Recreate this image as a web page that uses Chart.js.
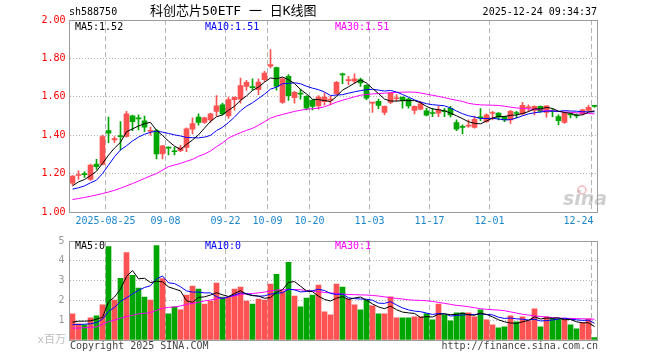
<!DOCTYPE html>
<html><head><meta charset="utf-8">
<script src="https://cdn.jsdelivr.net/npm/chart.js@4/dist/chart.umd.min.js"></script>
<style>
html,body{margin:0;padding:0;background:#fff;}
#wrap{position:relative;width:660px;height:360px;background:#fff;}
canvas{position:absolute;left:0;}
#c1{top:0;} #c2{top:230px;}
</style></head><body>
<div id="wrap"><canvas id="c1" width="660" height="230"></canvas><canvas id="c2" width="660" height="130"></canvas></div>
<script>
// ---------- data ----------
const dates = [
'2025-08-15','2025-08-18','2025-08-19','2025-08-20','2025-08-21','2025-08-22','2025-08-25','2025-08-26','2025-08-27','2025-08-28','2025-08-29',
'2025-09-01','2025-09-02','2025-09-03','2025-09-04','2025-09-05','2025-09-08','2025-09-09','2025-09-10','2025-09-11','2025-09-12',
'2025-09-15','2025-09-16','2025-09-17','2025-09-18','2025-09-19','2025-09-22','2025-09-23','2025-09-24','2025-09-25','2025-09-26','2025-09-29','2025-09-30',
'2025-10-09','2025-10-10','2025-10-13','2025-10-14','2025-10-15','2025-10-16','2025-10-17','2025-10-20','2025-10-21','2025-10-22','2025-10-23','2025-10-24',
'2025-10-27','2025-10-28','2025-10-29','2025-10-30','2025-10-31',
'2025-11-03','2025-11-04','2025-11-05','2025-11-06','2025-11-07','2025-11-10','2025-11-11','2025-11-12','2025-11-13','2025-11-14',
'2025-11-17','2025-11-18','2025-11-19','2025-11-20','2025-11-21','2025-11-24','2025-11-25','2025-11-26','2025-11-27','2025-11-28',
'2025-12-01','2025-12-02','2025-12-03','2025-12-04','2025-12-05','2025-12-08','2025-12-09','2025-12-10','2025-12-11','2025-12-12',
'2025-12-15','2025-12-16','2025-12-17','2025-12-18','2025-12-19','2025-12-22','2025-12-23','2025-12-24'];

const opens = [1.15,1.19,1.198,1.17,1.25,1.248,1.424,1.375,1.398,1.393,
1.501,1.49,1.475,1.42,1.424,1.302,1.337,1.318,1.319,1.337,
1.431,1.494,1.466,1.48,1.524,1.558,1.501,1.585,1.588,1.654,
1.652,1.637,1.689,1.76,1.752,1.571,1.707,1.595,1.618,1.602,
1.581,1.553,1.574,1.583,1.616,1.718,1.684,1.682,1.69,1.66,
1.567,1.576,1.518,1.571,1.59,1.599,1.588,1.529,1.536,1.527,
1.517,1.515,1.525,1.54,1.466,1.443,1.447,1.441,1.496,1.471,
1.513,1.515,1.497,1.48,1.516,1.511,1.542,1.529,1.55,1.518,
1.527,1.497,1.466,1.51,1.503,1.511,1.529,1.552];
const highs = [1.19,1.215,1.21,1.25,1.274,1.401,1.494,1.393,1.471,1.524,
1.505,1.506,1.50,1.442,1.43,1.347,1.34,1.337,1.347,1.438,
1.49,1.511,1.494,1.515,1.606,1.567,1.599,1.60,1.698,1.686,
1.693,1.693,1.733,1.846,1.755,1.699,1.716,1.628,1.64,1.606,
1.585,1.606,1.62,1.602,1.68,1.724,1.707,1.72,1.698,1.663,
1.571,1.588,1.553,1.623,1.611,1.599,1.593,1.553,1.576,1.54,
1.54,1.55,1.54,1.55,1.48,1.454,1.48,1.50,1.539,1.511,
1.524,1.518,1.50,1.529,1.524,1.571,1.558,1.553,1.553,1.553,
1.54,1.506,1.518,1.515,1.511,1.536,1.557,1.555];
const lows = [1.14,1.17,1.18,1.165,1.222,1.245,1.361,1.361,1.323,1.39,
1.424,1.428,1.419,1.40,1.276,1.276,1.297,1.297,1.314,1.314,
1.407,1.452,1.462,1.466,1.50,1.505,1.487,1.53,1.567,1.634,
1.634,1.611,1.68,1.75,1.634,1.565,1.581,1.567,1.588,1.532,
1.532,1.536,1.557,1.558,1.611,1.668,1.663,1.668,1.654,1.585,
1.518,1.538,1.506,1.564,1.576,1.541,1.541,1.511,1.532,1.50,
1.497,1.497,1.497,1.494,1.424,1.407,1.44,1.436,1.476,1.466,
1.48,1.48,1.471,1.462,1.49,1.506,1.524,1.506,1.518,1.494,
1.497,1.454,1.462,1.49,1.49,1.506,1.524,1.545];
const closes = [1.187,1.195,1.195,1.245,1.236,1.393,1.41,1.382,1.392,1.511,
1.471,1.485,1.442,1.424,1.302,1.344,1.333,1.314,1.336,1.433,
1.461,1.466,1.49,1.511,1.553,1.511,1.585,1.597,1.658,1.675,
1.648,1.677,1.724,1.768,1.654,1.693,1.606,1.623,1.614,1.541,
1.55,1.599,1.599,1.586,1.675,1.714,1.688,1.693,1.672,1.593,
1.571,1.555,1.55,1.62,1.595,1.581,1.553,1.55,1.564,1.504,
1.513,1.532,1.522,1.506,1.431,1.441,1.45,1.483,1.49,1.506,
1.515,1.494,1.48,1.524,1.513,1.555,1.545,1.55,1.524,1.553,
1.522,1.476,1.515,1.506,1.50,1.532,1.545,1.55];

const ma5 = [1.136,1.157,1.169,1.19,1.212,1.253,1.296,1.333,1.363,1.418,
1.433,1.448,1.460,1.467,1.425,1.399,1.369,1.343,1.326,1.352,
1.375,1.402,1.437,1.472,1.496,1.506,1.530,1.551,1.581,1.605,
1.633,1.651,1.676,1.698,1.694,1.703,1.689,1.669,1.638,1.615,
1.587,1.585,1.581,1.575,1.602,1.635,1.652,1.671,1.688,1.672,
1.643,1.617,1.588,1.578,1.578,1.580,1.580,1.580,1.569,1.550,
1.537,1.533,1.527,1.515,1.501,1.486,1.470,1.462,1.459,1.474,
1.489,1.498,1.497,1.504,1.505,1.513,1.523,1.537,1.537,1.545,
1.539,1.525,1.518,1.514,1.504,1.506,1.520,1.527];
const ma10 = [1.119,1.126,1.136,1.152,1.166,1.200,1.244,1.288,1.323,1.345,
1.370,1.390,1.405,1.415,1.421,1.416,1.409,1.402,1.396,1.388,
1.387,1.386,1.390,1.399,1.424,1.441,1.466,1.494,1.527,1.551,
1.569,1.591,1.614,1.640,1.650,1.668,1.670,1.673,1.668,1.655,
1.645,1.637,1.625,1.607,1.609,1.611,1.619,1.626,1.632,1.637,
1.639,1.635,1.630,1.633,1.625,1.612,1.598,1.584,1.573,1.564,
1.559,1.556,1.553,1.542,1.526,1.512,1.501,1.495,1.487,1.487,
1.488,1.484,1.480,1.481,1.490,1.501,1.511,1.517,1.521,1.525,
1.526,1.524,1.528,1.526,1.525,1.522,1.522,1.522];
const ma30 = [1.065,1.070,1.076,1.082,1.089,1.096,1.104,1.113,1.124,1.136,
1.148,1.161,1.175,1.188,1.200,1.218,1.236,1.245,1.253,1.264,
1.274,1.290,1.302,1.318,1.340,1.360,1.385,1.400,1.413,1.425,
1.436,1.452,1.470,1.489,1.500,1.508,1.516,1.524,1.530,1.535,
1.538,1.541,1.548,1.560,1.572,1.582,1.591,1.600,1.608,1.612,
1.615,1.617,1.619,1.621,1.623,1.624,1.625,1.624,1.620,1.614,
1.608,1.602,1.596,1.588,1.582,1.576,1.566,1.561,1.558,1.557,
1.556,1.555,1.551,1.546,1.542,1.540,1.537,1.535,1.532,1.529,
1.527,1.524,1.521,1.519,1.517,1.515,1.513,1.511];

const volumes = [1.32,0.82,0.77,1.12,1.22,1.77,4.72,2.02,3.12,4.42,
3.27,2.62,2.17,2.02,4.77,3.10,1.32,1.67,1.52,2.27,
2.72,2.57,1.82,1.97,2.87,2.17,2.17,2.57,2.67,1.97,
1.82,2.07,2.02,2.82,3.32,2.47,3.92,2.22,1.67,2.12,
2.27,2.77,1.42,1.27,2.82,2.67,2.07,1.77,1.52,2.02,
1.72,1.32,1.32,2.18,1.12,1.12,1.12,1.17,1.17,1.33,
1.02,1.82,1.27,0.97,1.37,1.37,1.37,1.17,1.52,1.02,
0.77,0.62,0.67,1.22,0.92,1.17,0.97,1.57,0.67,1.17,
1.12,1.07,1.07,0.77,0.57,0.87,1.07,0.12];
const volMa5 = [0.90,0.95,0.95,0.97,1.05,1.14,1.92,2.17,2.57,3.21,
3.51,3.09,3.12,2.90,2.97,2.94,2.68,2.58,2.48,1.98,
1.90,2.15,2.18,2.27,2.39,2.28,2.20,2.35,2.49,2.31,
2.24,2.22,2.11,2.14,2.41,2.54,2.91,2.95,2.72,2.48,
2.44,2.21,2.05,1.97,2.11,2.19,2.05,2.12,2.17,2.01,
1.82,1.67,1.58,1.71,1.53,1.41,1.37,1.34,1.14,1.18,
1.16,1.30,1.32,1.28,1.29,1.36,1.27,1.25,1.36,1.29,
1.17,1.02,0.92,0.86,0.84,0.92,0.99,1.17,1.06,1.11,
1.10,1.12,1.02,1.04,0.92,0.87,0.87,0.68];
const volMa10 = [0.77,0.78,0.80,0.82,0.88,1.05,1.45,1.65,1.95,2.13,
2.33,2.51,2.65,2.74,3.09,3.23,2.89,2.85,2.69,2.48,
2.42,2.42,2.38,2.38,2.19,2.09,2.18,2.27,2.38,2.35,
2.26,2.21,2.23,2.32,2.36,2.39,2.57,2.53,2.43,2.45,
2.49,2.56,2.50,2.35,2.30,2.32,2.13,2.09,2.07,2.06,
2.01,1.86,1.85,1.94,1.77,1.62,1.52,1.46,1.43,1.36,
1.29,1.34,1.33,1.21,1.24,1.26,1.29,1.29,1.32,1.29,
1.27,1.15,1.09,1.11,1.07,1.05,1.01,1.05,0.96,0.98,
1.01,1.06,1.10,1.05,1.02,0.99,1.00,0.85];
const volMa30 = [0.60,0.60,0.62,0.64,0.66,0.80,0.93,1.00,1.10,1.18,
1.25,1.32,1.35,1.38,1.50,1.60,1.65,1.67,1.72,1.80,
1.85,1.90,1.97,2.02,2.08,2.12,2.18,2.22,2.30,2.33,
2.35,2.38,2.42,2.48,2.52,2.53,2.55,2.55,2.54,2.50,
2.47,2.44,2.40,2.38,2.35,2.32,2.30,2.29,2.28,2.27,
2.25,2.22,2.18,2.14,2.10,2.07,2.03,2.01,2.00,1.98,
1.95,1.90,1.85,1.80,1.75,1.72,1.68,1.63,1.58,1.55,
1.53,1.51,1.48,1.42,1.36,1.30,1.26,1.22,1.19,1.16,
1.13,1.11,1.10,1.09,1.08,1.07,1.06,1.05];

const tickDates  = ['2025-08-25','2025-09-08','2025-09-22','2025-10-09','2025-10-20','2025-11-03','2025-11-17','2025-12-01','2025-12-24'];
const tickLabels = ['2025-08-25','09-08','09-22','10-09','10-20','11-03','11-17','12-01','12-24'];
const priceTicks = {min:1.0, max:2.0, step:0.2};
const volTicks = {min:0, max:5, step:1};

// ---------- styling ----------
const FONT = "'DejaVu Sans Mono','Liberation Mono',monospace";
const UP = '#ff5353', DOWN = '#00a600', GRID = '#b4b4b4', FRAME = '#9c9c9c';
Chart.defaults.font.family = FONT;
Chart.defaults.font.size = 10;
Chart.defaults.animation = false;
Chart.defaults.plugins.legend.display = false;
Chart.defaults.plugins.tooltip.enabled = false;

const n = dates.length;
const markIdx = tickDates.map(d => dates.indexOf(d));
const upAt = i => closes[i] >= opens[i];
const colorAt = c => upAt(c.dataIndex) ? UP : DOWN;

function xOpts(){
  return {
    type:'category', offset:true,
    grid:{offset:true, drawTicks:false, lineWidth:1,
      color: c => markIdx.includes(c.index) ? GRID : 'rgba(0,0,0,0)'},
    border:{display:false, dash:[5,3]},
    ticks:{display:false, autoSkip:false},
    afterFit: s => { s.height = 0; }
  };
}
function lineDs(data, color){
  return {type:'line', data, borderColor:color, borderWidth:1, pointRadius:0, tension:0, order:0};
}
function frame(ctx, a){
  ctx.save();
  ctx.strokeStyle = FRAME; ctx.lineWidth = 1;
  const t = Math.floor(a.top)+0.5, b = Math.floor(a.bottom)+0.5;
  ctx.strokeRect(a.left, t, a.right - a.left, b - t);
  ctx.restore();
}

// ---------- price chart ----------
const deco1 = {
  id:'deco1',
  afterDraw(chart){
    const {ctx, chartArea:a, scales:{x}} = chart;
    frame(ctx, a);
    ctx.save();
    ctx.textBaseline = 'middle';
    ctx.font = '10px ' + FONT;
    ctx.fillStyle = '#000';
    ctx.textAlign = 'left';
    ctx.fillText('sh588750', 69, 12);
    ctx.textAlign = 'right';
    ctx.fillText('2025-12-24 09:34:37', 597, 12);
    ctx.textAlign = 'left';
    ctx.font = "13px 'DejaVu Sans Mono','Noto Sans CJK SC'";
    ctx.fillText('科创芯片50ETF 一 日K线图', 150, 12);
    ctx.font = '10px ' + FONT;
    ctx.fillStyle = '#000'; ctx.fillText('MA5:1.52', 75, 27);
    ctx.fillStyle = '#0000ff'; ctx.fillText('MA10:1.51', 205, 27);
    ctx.fillStyle = '#ff00ff'; ctx.fillText('MA30:1.51', 335, 27);
    // x labels
    const slot = (a.right - a.left) / n;
    ctx.fillStyle = '#1a86cc';
    ctx.textAlign = 'center';
    markIdx.forEach((idx, k) => {
      const px = x.getPixelForValue(idx) - slot/2;
      const w = ctx.measureText(tickLabels[k]).width;
      const cx = Math.min(px, a.right - w/2 - 4);
      ctx.fillText(tickLabels[k], cx, 221);
    });
    // sina watermark
    ctx.globalAlpha = 0.55;
    ctx.fillStyle = '#a8a8a8';
    ctx.font = "italic bold 19px 'DejaVu Sans','Liberation Sans'";
    ctx.textAlign = 'left';
    ctx.fillText('sina', 563, 200);
    ctx.strokeStyle = '#f08080'; ctx.lineWidth = 1.5;
    ctx.beginPath(); ctx.arc(582, 190, 4, 0, Math.PI*2); ctx.stroke();
    ctx.restore();
  }
};

new Chart(document.getElementById('c1'), {
  type:'bar',
  data:{
    labels: dates,
    datasets:[
      lineDs(ma5, '#000000'),
      lineDs(ma10, '#0000ff'),
      lineDs(ma30, '#ff00ff'),
      {type:'bar', data: opens.map((o,i)=>[o, closes[i]]), backgroundColor: colorAt,
       barThickness:5, minBarLength:1, grouped:false, borderWidth:0, order:1},
      {type:'bar', data: lows.map((l,i)=>[l, highs[i]]), backgroundColor: colorAt,
       barThickness:1, grouped:false, borderWidth:0, order:2}
    ]
  },
  options:{
    responsive:false, devicePixelRatio:1,
    layout:{padding:{top:20, right:62.5, bottom:18, left:0}},
    scales:{
      x: xOpts(),
      y: {
        min:priceTicks.min, max:priceTicks.max,
        ticks:{stepSize:priceTicks.step, color:'#ff0000', padding:4, callback:v=>Number(v).toFixed(2)},
        grid:{drawTicks:false, lineWidth:1,
          color: c => (c.tick && c.tick.value > 1.01 && c.tick.value < 1.99) ? GRID : 'rgba(0,0,0,0)'},
        border:{display:false, dash:[1,2]},
        afterFit: s => { s.width = 69.5; }
      }
    }
  },
  plugins:[deco1]
});

// ---------- volume chart ----------
const deco2 = {
  id:'deco2',
  afterDraw(chart){
    const {ctx, chartArea:a} = chart;
    frame(ctx, a);
    ctx.save();
    ctx.textBaseline = 'middle';
    ctx.font = '10px ' + FONT;
    ctx.textAlign = 'left';
    ctx.fillStyle = '#000'; ctx.fillText('MA5:0', 75, 16);
    ctx.fillStyle = '#0000ff'; ctx.fillText('MA10:0', 205, 16);
    ctx.fillStyle = '#ff00ff'; ctx.fillText('MA30:1', 335, 16);
    ctx.fillStyle = '#444';
    ctx.fillText('Copyright 2025 SINA.COM', 70, 116);
    ctx.textAlign = 'right';
    ctx.fillText('http://finance.sina.com.cn', 598, 116);
    ctx.fillStyle = '#bdbdbd';
    ctx.font = "11px 'DejaVu Sans Mono','Noto Sans CJK SC'";
    ctx.fillText('x百万', 66, 110);
    ctx.restore();
  }
};

new Chart(document.getElementById('c2'), {
  type:'bar',
  data:{
    labels: dates,
    datasets:[
      lineDs(volMa5, '#000000'),
      lineDs(volMa10, '#0000ff'),
      lineDs(volMa30, '#ff00ff'),
      {type:'bar', data: volumes, backgroundColor: colorAt, barThickness:5, grouped:false, borderWidth:0, order:1}
    ]
  },
  options:{
    responsive:false, devicePixelRatio:1,
    layout:{padding:{top:10, right:62.5, bottom:20, left:0}},
    scales:{
      x: xOpts(),
      y: {
        min:volTicks.min, max:volTicks.max,
        ticks:{stepSize:volTicks.step, color:'#9a9a9a', padding:5, callback:v => v === 0 ? '' : String(v)},
        grid:{drawTicks:false, lineWidth:1,
          color: c => (c.tick && c.tick.value > 0 && c.tick.value < 5) ? GRID : 'rgba(0,0,0,0)'},
        border:{display:false, dash:[1,2]},
        afterFit: s => { s.width = 69.5; }
      }
    }
  },
  plugins:[deco2]
});
</script>
</body></html>
